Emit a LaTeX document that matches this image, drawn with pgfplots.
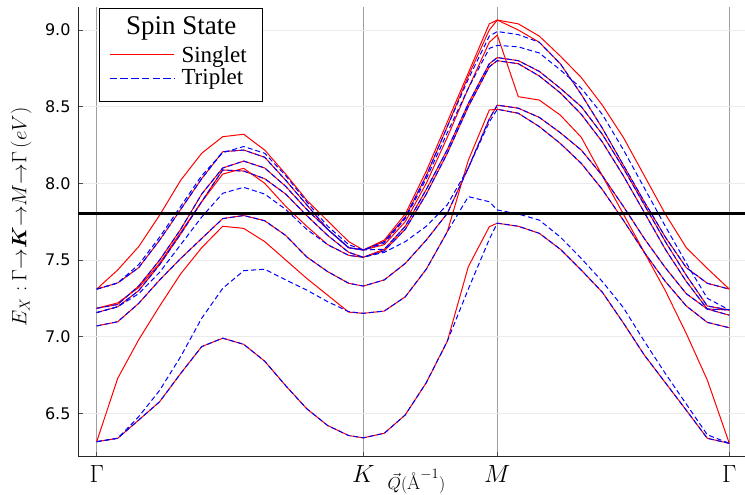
\documentclass[border=0pt]{standalone}
\usepackage{amsmath,amssymb,bm}
\usepackage{fontspec}
\usepackage{pgfplots}
\pgfplotsset{compat=1.18}
\usepackage{pgfplotstable}
\newfontfamily\legfont{Liberation Serif}
\newfontfamily\tickfont{DejaVu Sans}

\pgfplotstableread{
x s1 s2 s3 s4 s5 s6 s7 s8 t1 t2 t3 t4 t5 t6 t7 t8
0 6.315 6.315 7.07 7.31 7.31 7.185 7.157 7.185 6.315 6.315 7.07 7.31 7.31 7.185 7.157 7.157
21 6.337 6.728 7.097 7.435 7.35 7.21 7.195 7.22 6.337 6.337 7.097 7.35 7.35 7.21 7.195 7.195
42 6.456 6.98 7.217 7.587 7.45 7.33 7.30 7.32 6.456 6.478 7.217 7.47 7.45 7.33 7.30 7.28
63 6.576 7.20 7.37 7.793 7.63 7.50 7.47 7.48 6.576 6.65 7.37 7.65 7.63 7.50 7.47 7.42
84 6.76 7.41 7.51 8.02 7.83 7.70 7.67 7.68 6.76 6.87 7.51 7.85 7.83 7.70 7.67 7.60
105 6.935 7.58 7.64 8.196 8.03 7.93 7.88 7.88 6.935 7.12 7.64 8.05 8.03 7.93 7.88 7.78
126 6.99 7.72 7.77 8.304 8.206 8.10 8.087 8.06 6.99 7.315 7.77 8.20 8.206 8.10 8.087 7.935
147 6.95 7.706 7.79 8.32 8.217 8.145 8.08 8.098 6.95 7.43 7.79 8.24 8.217 8.145 8.08 7.974
168 6.84 7.62 7.756 8.217 8.17 8.10 8.03 8.00 6.84 7.44 7.756 8.196 8.17 8.10 8.03 7.93
189 6.68 7.50 7.66 8.06 8.02 7.98 7.93 7.85 6.68 7.37 7.66 8.05 8.02 7.98 7.93 7.83
210 6.53 7.38 7.52 7.89 7.86 7.83 7.79 7.72 6.53 7.304 7.52 7.88 7.86 7.83 7.79 7.70
231 6.42 7.27 7.424 7.755 7.70 7.70 7.66 7.60 6.42 7.228 7.424 7.72 7.70 7.70 7.66 7.60
252 6.355 7.16 7.348 7.62 7.58 7.58 7.55 7.53 6.355 7.163 7.348 7.60 7.58 7.58 7.55 7.53
266.6 6.34 7.152 7.33 7.565 7.565 7.565 7.518 7.518 6.34 7.152 7.33 7.565 7.565 7.565 7.518 7.518
287.6 6.37 7.167 7.37 7.63 7.62 7.60 7.57 7.56 6.37 7.167 7.37 7.62 7.61 7.57 7.56 7.55
308.6 6.49 7.26 7.478 7.80 7.78 7.75 7.72 7.70 6.49 7.26 7.478 7.78 7.77 7.72 7.70 7.62
329.6 6.70 7.44 7.63 8.08 8.05 8.00 7.96 7.93 6.70 7.44 7.63 8.05 8.03 7.96 7.93 7.72
350.6 6.97 7.684 7.804 8.40 8.37 8.30 8.22 8.196 6.97 7.684 7.804 8.37 8.33 8.22 8.196 7.86
371.6 7.456 8.15 8.10 8.72 8.70 8.62 8.52 8.50 7.31 7.913 8.10 8.68 8.62 8.52 8.50 8.10
392.6 7.717 8.478 8.42 9.04 9.00 8.92 8.78 8.76 7.635 7.88 8.42 8.96 8.88 8.78 8.76 8.40
400.6 7.74 8.483 8.51 9.065 9.065 8.967 8.82 8.80 7.74 7.826 8.51 8.99 8.90 8.82 8.80 8.483
421.6 7.72 8.457 8.49 9.04 9.00 8.565 8.80 8.78 7.72 7.80 8.49 8.97 8.89 8.80 8.78 8.457
442.6 7.674 8.37 8.43 8.96 8.92 8.543 8.73 8.70 7.674 7.76 8.43 8.92 8.85 8.73 8.70 8.37
463.6 7.57 8.26 8.33 8.83 8.78 8.445 8.62 8.59 7.57 7.65 8.33 8.78 8.74 8.62 8.59 8.26
484.6 7.434 8.13 8.217 8.69 8.58 8.30 8.50 8.45 7.434 7.51 8.217 8.58 8.62 8.50 8.45 8.13
505.6 7.29 7.96 8.05 8.51 8.36 8.05 8.32 8.27 7.29 7.36 8.05 8.36 8.45 8.32 8.27 7.96
526.6 7.09 7.76 7.85 8.30 8.12 7.80 8.10 8.05 7.09 7.19 7.85 8.12 8.22 8.10 8.05 7.76
547.6 6.88 7.55 7.64 8.05 7.88 7.55 7.86 7.81 6.88 6.97 7.64 7.88 7.97 7.86 7.81 7.55
568.6 6.70 7.36 7.45 7.80 7.65 7.30 7.62 7.57 6.70 6.76 7.45 7.65 7.72 7.62 7.57 7.36
589.6 6.52 7.20 7.28 7.58 7.45 7.02 7.40 7.36 6.52 6.56 7.28 7.45 7.48 7.40 7.36 7.20
610.6 6.337 7.093 7.18 7.445 7.348 6.717 7.20 7.18 6.337 6.36 7.18 7.348 7.25 7.20 7.18 7.093
632.6 6.304 7.058 7.14 7.31 7.31 6.304 7.174 7.174 6.304 6.304 7.14 7.31 7.174 7.174 7.174 7.058
}\bands

\begin{document}
\begin{tikzpicture}
\begin{axis}[
  scale only axis, width=667pt, height=450pt,
  xmin=-18.7, xmax=648.3, ymin=6.217, ymax=9.152,
  axis x line*=bottom, axis y line*=left,
  axis line style={-, line width=0.9pt, black!85},
  xtick={0,266.6,400.6,632.6},
  xticklabels={$\Gamma$,$K$,$M$,$\Gamma$},
  x tick label style={font=\fontsize{24}{28}\selectfont, inner sep=1pt, yshift=-8pt},
  ytick={6.5,7,7.5,8,8.5,9},
  y tick label style={font=\tickfont\fontsize{16}{19}\selectfont, xshift=-4pt,
     /pgf/number format/.cd, fixed, fixed zerofill, precision=1, assume math mode=true},
  tick align=inside, major tick length=5pt,
  tick style={black!70, line width=0.6pt},
  xmajorgrids, ymajorgrids,
  major x grid style={black!38, line width=1.1pt},
  major y grid style={black!8, line width=0.9pt},
  xlabel={$\vec{Q}(\text{\AA}^{-1})$},
  xlabel style={font=\fontsize{19}{21}\selectfont, inner sep=1pt, at={(axis description cs:0.5,0)}, anchor=north, yshift=-11pt, xshift=5pt},
  ylabel={$E_X : \Gamma{\to}\boldsymbol{K}{\to}M{\to}\Gamma\,(eV)$},
  ylabel style={font=\fontsize{21}{24}\selectfont, at={(axis description cs:-0.085,0.533)}, anchor=center},
  sing/.style={red, line width=1pt},
  trip/.style={blue, line width=1pt, dash pattern=on 5pt off 3pt},
]
\addplot[sing] table[x=x,y=s1]{\bands};
\addplot[sing] table[x=x,y=s2]{\bands};
\addplot[sing] table[x=x,y=s3]{\bands};
\addplot[sing] table[x=x,y=s4]{\bands};
\addplot[sing] table[x=x,y=s5]{\bands};
\addplot[sing] table[x=x,y=s6]{\bands};
\addplot[sing] table[x=x,y=s7]{\bands};
\addplot[sing] table[x=x,y=s8]{\bands};
\addplot[trip] table[x=x,y=t1]{\bands};
\addplot[trip] table[x=x,y=t2]{\bands};
\addplot[trip] table[x=x,y=t3]{\bands};
\addplot[trip] table[x=x,y=t4]{\bands};
\addplot[trip] table[x=x,y=t5]{\bands};
\addplot[trip] table[x=x,y=t6]{\bands};
\addplot[trip] table[x=x,y=t7]{\bands};
\addplot[trip] table[x=x,y=t8]{\bands};
\addplot[black, line width=3pt] coordinates {(-18.7,7.8) (648.3,7.8)};
\end{axis}
% legend (absolute picture coordinates; axis lower-left is the origin)
\draw[black, line width=1.3pt, fill=white] (21.7pt,448.4pt) rectangle (184.7pt,355.4pt);
\node[anchor=base, inner sep=0pt, font=\legfont\fontsize{27}{29}\selectfont]
  at (103.3pt,422.4pt) {Spin State};
\node[anchor=base west, inner sep=0pt, font=\legfont\fontsize{23}{25}\selectfont]
  at (103.3pt,394pt) {Singlet};
\node[anchor=base west, inner sep=0pt, font=\legfont\fontsize{23}{25}\selectfont]
  at (103.3pt,371.7pt) {Triplet};
\draw[red, line width=1.1pt] (31.7pt,402.4pt) -- (96pt,402.4pt);
\draw[blue, line width=1.3pt, dash pattern=on 7.5pt off 3.2pt] (31.7pt,378.4pt) -- (96pt,378.4pt);
\pgfresetboundingbox
\path[use as bounding box] (-78pt,-38.3pt) rectangle (667pt,456.7pt);
\end{tikzpicture}
\end{document}
